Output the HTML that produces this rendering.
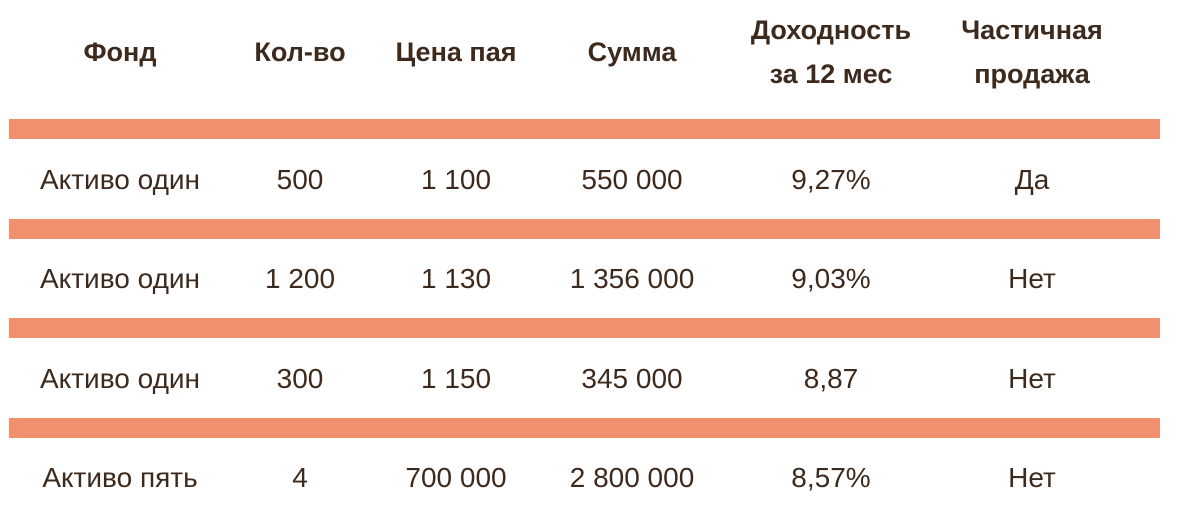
<!DOCTYPE html>
<html><head><meta charset="utf-8"><style>
body{margin:0;width:1185px;height:527px;background:#fff;position:relative;overflow:hidden;font-family:"Liberation Sans","DejaVu Sans",sans-serif;color:#3d2a1d}
.t{position:absolute;transform:translate(-50%,-50%);white-space:nowrap;text-align:center}
.h{font-weight:bold;font-size:27px;line-height:44px}
.c{font-size:28px}
.bar{position:absolute;left:9px;width:1151px;height:20px;background:#f0906e}
</style></head><body>
<div class="t h" style="left:120px;top:52px">Фонд</div>
<div class="t h" style="left:300px;top:52px">Кол-во</div>
<div class="t h" style="left:456px;top:52px">Цена пая</div>
<div class="t h" style="left:632px;top:52px">Сумма</div>
<div class="t h" style="left:831px;top:52px">Доходность<br>за 12 мес</div>
<div class="t h" style="left:1032px;top:52px">Частичная<br>продажа</div>
<div class="bar" style="top:119px"></div>
<div class="bar" style="top:219px"></div>
<div class="bar" style="top:318px"></div>
<div class="bar" style="top:418px"></div>
<div id="rows"></div>
<script>
const funds=["Активо один","Активо один","Активо один","Активо пять"];
const qty=["500","1 200","300","4"];
const price=["1 100","1 130","1 150","700 000"];
const sums=["550 000","1 356 000","345 000","2 800 000"];
const yields=["9,27%","9,03%","8,87","8,57%"];
const partial=["Да","Нет","Нет","Нет"];
const cols=[120,300,456,632,831,1032];
const names=['cell-fund','cell-qty','cell-price','cell-sum','cell-yield','cell-partial-sale'];
const rows=document.getElementById('rows');
for(let i=0;i<funds.length;i++){
  const vals=[funds[i],qty[i],price[i],sums[i],yields[i],partial[i]];
  for(let j=0;j<6;j++){
    const d=document.createElement('div');
    d.className='t c';
    d.style.left=cols[j]+'px';
    d.style.top=(180+i*99.3)+'px';
    d.textContent=vals[j];
    
    
    rows.appendChild(d);
  }
}
</script>
</body></html>
